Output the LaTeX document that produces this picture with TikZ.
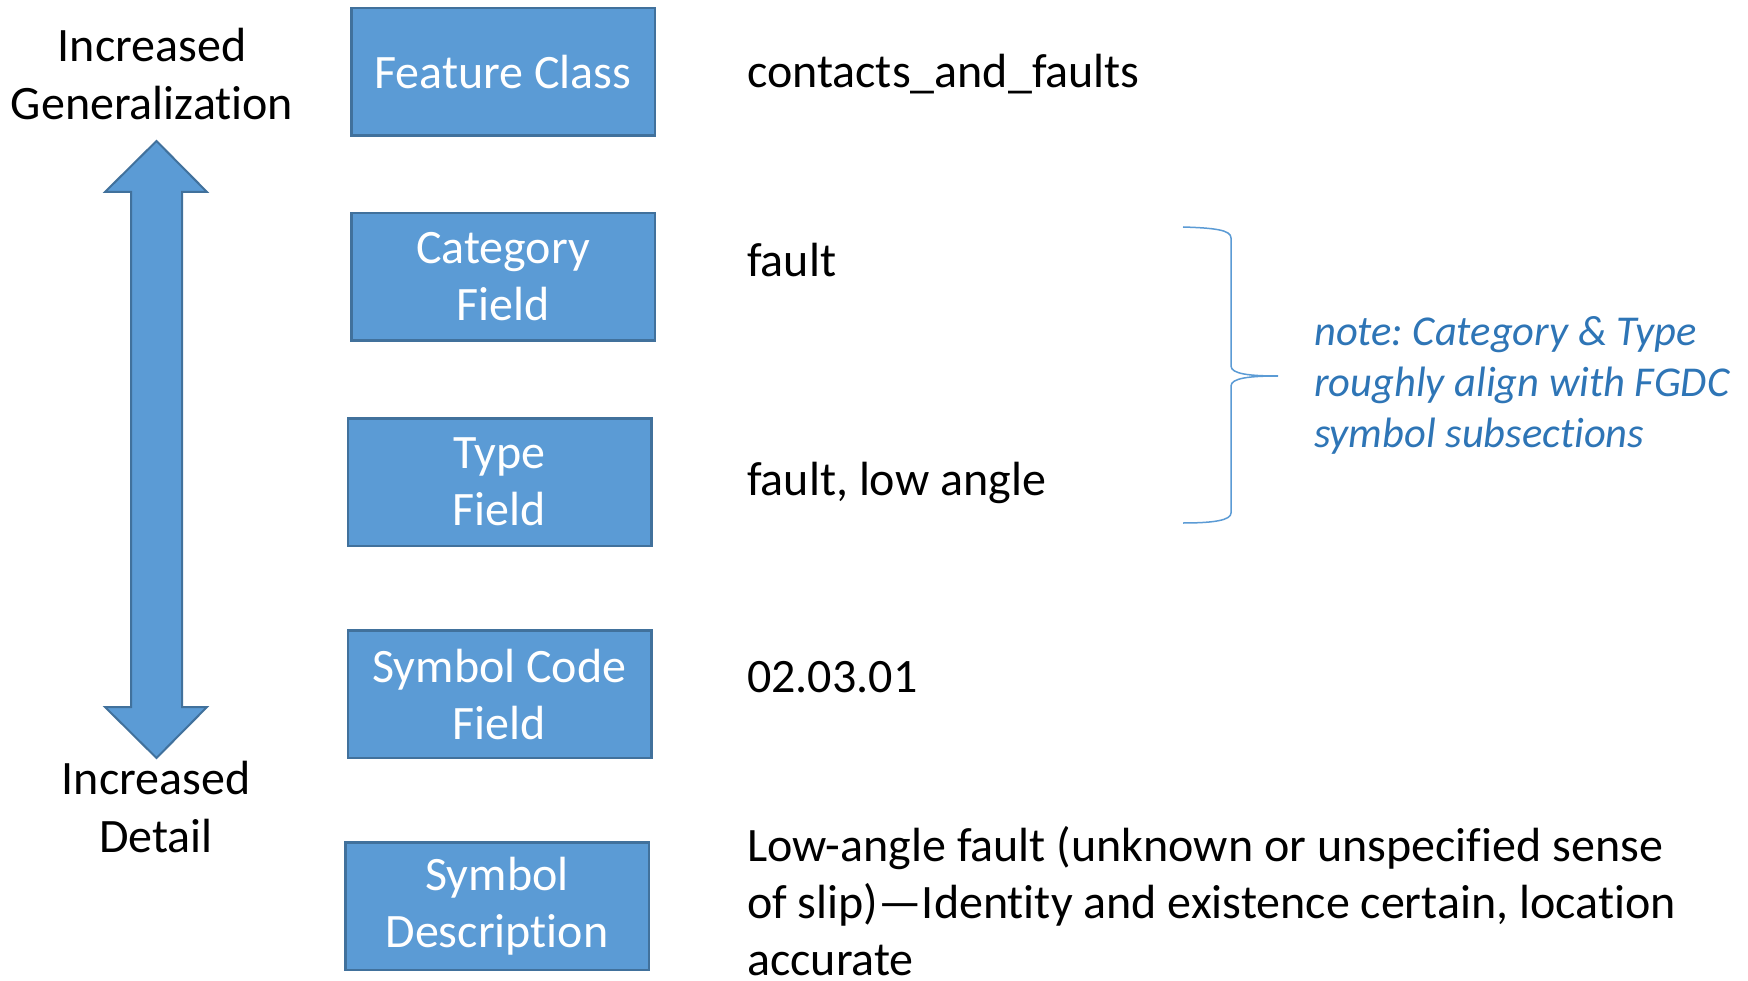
\documentclass[tikz,border=0pt]{standalone}
\usepackage{fontspec}
\setmainfont{Carlito}[Ligatures={TeX,NoCommon}]
\definecolor{boxfill}{RGB}{91,155,213}
\definecolor{boxline}{RGB}{65,113,156}
\definecolor{notecol}{RGB}{46,117,182}
\definecolor{bracecol}{RGB}{91,155,213}
\begin{document}
\frenchspacing
\begin{tikzpicture}[x=1pt,y=-1pt,
  fbox/.style={draw=boxline,line width=2.5pt,fill=boxfill,minimum width=303.5pt,minimum height=127.5pt,inner sep=0pt,text=white,align=center,font=\fontsize{48}{57}\selectfont},
  lbl/.style={font=\fontsize{48}{58}\selectfont,align=center,inner sep=0pt,anchor=base},
  val/.style={font=\fontsize{48}{57}\selectfont,anchor=base west,inner sep=0pt,align=left}]
\useasboundingbox (0,0) rectangle (1748,981);
\fill[white] (0,0) rectangle (1748,981);
% boxes
\node[fbox] (fc) at (503,72) {Feature Class};
\node[fbox] (cat) at (503,277) {Category\\Field};
\node[fbox] (typ) at (499.5,482) {Type\\Field};
\node[fbox] (sym) at (499.5,694) {Symbol Code\\Field};
\node[fbox] (desc) at (497,906) {Symbol\\Description};
% values
\node[val] (vfc) at (747,88) {contacts\_and\_faults};
\node[val] (vcat) at (747,277) {fault};
\node[val] (vtyp) at (747,495) {fault, low angle};
\node[val] (vsym) at (747,692) {02.03.01};
\node[val] (vdesc) at (747,975) {Low-angle fault (unknown or unspecified sense\\of slip)—Identity and existence certain, location\\accurate};
% arrow
\filldraw[fill=boxfill,draw=boxline,line width=2pt,line join=miter]
  (156.5,141) -- (207,192) -- (182,192) -- (182,707) -- (207,707) -- (156.5,758)
  -- (105,707) -- (131,707) -- (131,192) -- (105,192) -- cycle;
\node[lbl] (gen) at (152,120) {Increased\\Generalization};
\node[lbl] (det) at (156,852) {Increased\\Detail};
% brace
\coordinate (bt) at (1183,227);
\coordinate (bm) at (1278,376);
\coordinate (bb) at (1183,523);
\draw[bracecol,line width=1.5pt] (bt) .. controls (1215,228) and (1231,230) .. (1231,238)
  -- (1231,366) .. controls (1231,374) and (1250,376) .. (bm)
  .. controls (1250,376) and (1231,378) .. (1231,386)
  -- (1231,513) .. controls (1231,520) and (1215,523) .. (bb);
\node[font=\fontsize{42.5}{51}\selectfont\itshape,text=notecol,align=left,anchor=base west,inner sep=0pt] (note) at (1314,447) {note: Category \& Type\\roughly align with FGDC\\symbol subsections};
\end{tikzpicture}
\end{document}
